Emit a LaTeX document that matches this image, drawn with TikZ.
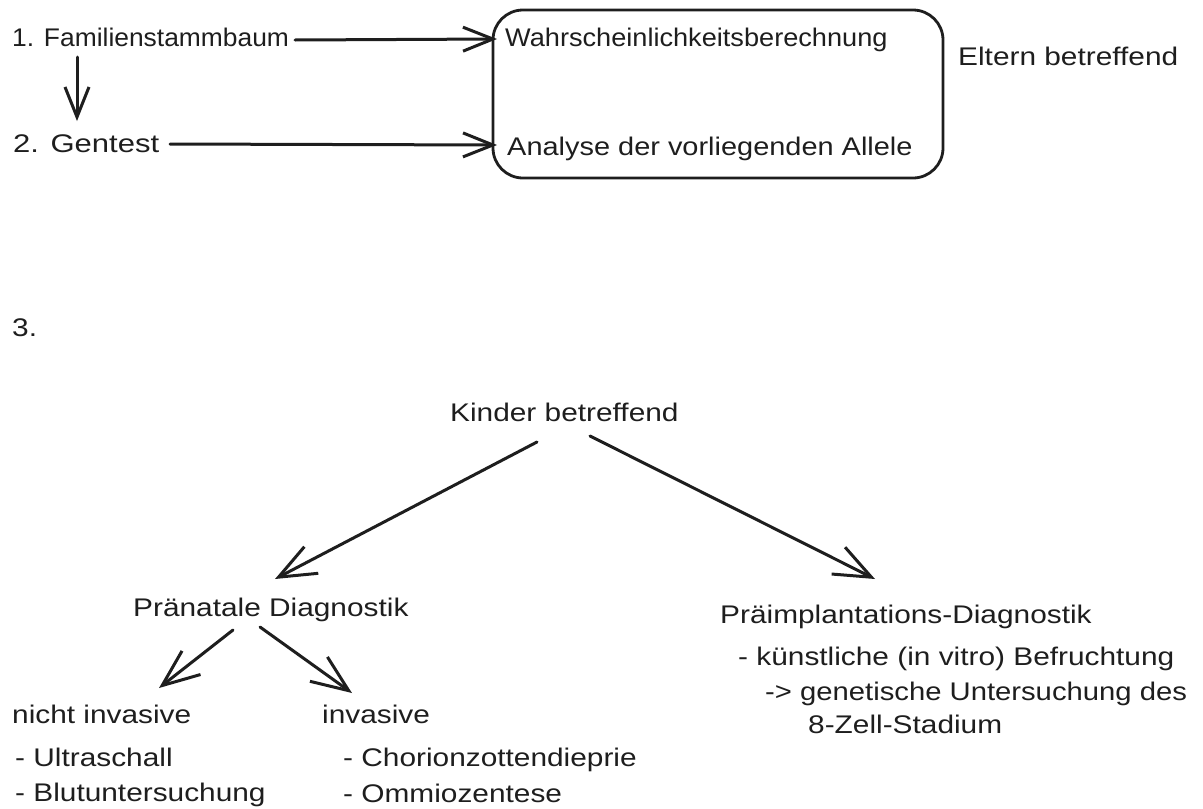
\documentclass[tikz,border=0pt]{standalone}
\usepackage{fontspec}
\setmainfont{Liberation Sans}[FakeStretch=1.17]
\usetikzlibrary{arrows.meta,calc}
\definecolor{ink}{HTML}{1E1E1E}
\begin{document}
\begin{tikzpicture}[x=1pt,y=-1pt,
  lbl/.style={font=\fontsize{25.5}{30}\selectfont, text=ink, inner sep=0pt, anchor=mid west, yshift=-6pt},
  arr/.style={draw=ink, line width=3pt, line cap=round, -{Straight Barb[length=30pt,width=24pt,line width=3pt]}},
  bigarr/.style={arr, -{Straight Barb[length=37pt,width=30pt,line width=3pt]}},
  ]
\useasboundingbox (0,0) rectangle (1203,809);
% top part
\node[draw=ink, line width=2.8pt, rounded corners=30pt, minimum width=450pt, minimum height=168pt, inner sep=0pt] (box) at (718,94) {};
\node[lbl] (fam) at (12,38) {\scalebox{0.885}[1]{1. Familienstammbaum}};
\node[lbl] (gen) at (13,144) {\scalebox{1.04}[1]{2. Gentest}};
\node[lbl] (wahr) at (505,38) {\scalebox{0.91}[1]{Wahrscheinlichkeitsberechnung}};
\node[lbl] (ana) at (507,147) {\scalebox{0.97}[1]{Analyse der vorliegenden Allele}};
\node[lbl] (elt) at (958,57) {Eltern betreffend};
\draw[arr] ($(fam.mid west)+(283,-4)$) -- ($(wahr.mid west)+(-8,-5)$);
\draw[arr] ($(gen.mid west)+(157,-6)$) -- ($(ana.mid west)+(-10,-8)$);
\draw[arr] ($(fam.mid west)+(65,13)$) -- ($(gen.mid west)+(64,-29)$);
% section 3
\node[lbl] (three) at (12,328) {3.};
\node[lbl] (kind) at (450,413) {Kinder betreffend};
\node[lbl] (pra) at (133,608) {Pränatale Diagnostik};
\node[lbl] (pri) at (720,615) {Präimplantations-Diagnostik};
\node[lbl] (pri1) at (738,657) {- künstliche (in vitro) Befruchtung};
\node[lbl] (pri2) at (765,692) {\scalebox{0.98}[1]{-> genetische Untersuchung des}};
\node[lbl] (pri3) at (808,725) {8-Zell-Stadium};
\node[lbl] (ni) at (12,715) {nicht invasive};
\node[lbl] (inv) at (322,715) {invasive};
\node[lbl] (ni1) at (15,758) {- Ultraschall};
\node[lbl] (ni2) at (15,793) {- Blutuntersuchung};
\node[lbl] (inv1) at (343,758) {- Chorionzottendieprie};
\node[lbl] (inv2) at (343,794) {- Ommiozentese};
\draw[bigarr] ($(kind.mid west)+(87,23)$) -- ($(pra.mid west)+(142,-35)$);
\draw[bigarr] ($(kind.mid west)+(140,17)$) -- ($(pri.mid west)+(155,-42)$);
\draw[bigarr] ($(pra.mid west)+(100,16)$) -- ($(ni.mid west)+(147,-33)$);
\draw[bigarr] ($(pra.mid west)+(127,13)$) -- ($(inv.mid west)+(30,-28)$);
\end{tikzpicture}
\end{document}
